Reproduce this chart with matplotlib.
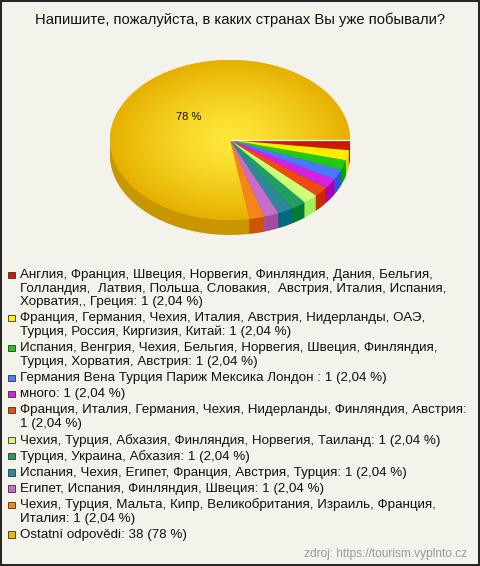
import numpy as np
import matplotlib
matplotlib.use('Agg')
import matplotlib.pyplot as plt
from matplotlib.patches import Rectangle
from matplotlib.font_manager import FontProperties
from matplotlib.colors import to_rgb

plt.rcParams['font.family'] = ['Liberation Sans', 'DejaVu Sans']

title = 'Напишите, пожалуйста, в каких странах Вы уже побывали?'
source = 'zdroj: https://tourism.vyplnto.cz'

answers = [
    'Англия, Франция, Швеция, Норвегия, Финляндия, Дания, Бельгия, Голландия,  Латвия, Польша, Словакия,  Австрия, Италия, Испания, Хорватия,, Греция',
    'Франция, Германия, Чехия, Италия, Австрия, Нидерланды, ОАЭ, Турция, Россия, Киргизия, Китай',
    'Испания, Венгрия, Чехия, Бельгия, Норвегия, Швеция, Финляндия, Турция, Хорватия, Австрия',
    'Германия Вена Турция Париж Мексика Лондон ',
    'много',
    'Франция, Италия, Германия, Чехия, Нидерланды, Финляндия, Австрия',
    'Чехия, Турция, Абхазия, Финляндия, Норвегия, Таиланд',
    'Турция, Украина, Абхазия',
    'Испания, Чехия, Египет, Франция, Австрия, Турция',
    'Египет, Испания, Финляндия, Швеция',
    'Чехия, Турция, Мальта, Кипр, Великобритания, Израиль, Франция, Италия',
    'Ostatní odpovědi',
]
counts = [1, 1, 1, 1, 1, 1, 1, 1, 1, 1, 1, 38]
pct_labels = ['2,04 %'] * 11 + ['78 %']

colors = ['#CC1A00', '#FFEE00', '#22C811', '#4A78FF', '#D422E0', '#EE4A11',
          '#CCFF77', '#1FA060', '#2E8898', '#C86CCC', '#F58518', '#EEB800']
side_colors = ['#B81400', '#E6CC00', '#00AA00', '#2F50E0', '#AA00B0', '#CC2800',
               '#A0EE5A', '#007A35', '#006880', '#A04CA0', '#CC5500', '#C89600']

bg = '#F3F3EB'
W, H = 480, 566
fig = plt.figure(figsize=(W / 100, H / 100), dpi=100, facecolor=bg)

# pie axes (3D look: stacked darker copies below the top face)
cx, cy, rx, ry = 230, 140, 120, 80
depth = 15 / ry
ax = fig.add_axes([100 / W, 1 - 245 / H, 260 / W, 195 / H])
ax.set_facecolor('none')
for d in np.linspace(depth, 0, 16)[:-1]:
    ax.pie(counts, colors=side_colors, startangle=0, counterclock=False,
           center=(0, -d), wedgeprops=dict(linewidth=0))
wedges, _, autotexts = ax.pie(
    counts, colors=colors, startangle=0, counterclock=False,
    autopct=lambda p: f'{p:.0f} %' if p > 50 else '', pctdistance=0.45,
    wedgeprops=dict(linewidth=0), textprops=dict(fontsize=8, color='#111111'))

# thin light seam where the small slices meet the big one at the top
ax.plot([0, 1], [0, 0], color='white', linewidth=0.9, zorder=2.5, solid_capstyle='butt')

# radial gradient on the big slice
g = np.linspace(-1, 1, 300)
xx, yy = np.meshgrid(g, g)
r = np.clip(np.sqrt(xx ** 2 + yy ** 2), 0, 1)[..., None]
c_in, c_out = np.array(to_rgb('#FFE83A')), np.array(to_rgb('#E6B000'))
img = c_in * (1 - r ** 1.3) + c_out * r ** 1.3
im = ax.imshow(img, extent=(-1, 1, -1, 1), origin='lower', aspect='auto', zorder=1.5)
im.set_clip_path(wedges[-1])
for t in autotexts:
    t.set_zorder(3)

ax.set_aspect('auto')
ax.set_xlim(-130 / rx, 130 / rx)
ax.set_ylim(-105 / ry, 90 / ry)
ax.axis('off')

# overlay in pixel coordinates for title, legend and frame
ov = fig.add_axes([0, 0, 1, 1], zorder=5)
ov.set_xlim(0, W)
ov.set_ylim(H, 0)
ov.axis('off')
ov.set_facecolor('none')

ov.text(240, 20, title, fontsize=10.6, ha='center', va='center', color='#111111')

fs = 9.65
prop = FontProperties(family=['Liberation Sans'], size=fs)
renderer = fig.canvas.get_renderer()


def text_w(s):
    w, _, _ = renderer.get_text_width_height_descent(s, prop, ismath=False)
    return w


def wrap(s, maxw):
    words = s.split(' ')
    lines, cur = [], ''
    for wd in words:
        cand = wd if cur == '' else cur + ' ' + wd
        if cur != '' and wd != '' and text_w(cand) > maxw:
            lines.append(cur)
            cur = wd
        else:
            cur = cand
    lines.append(cur)
    return lines


line_h = 13.6
gap = 2.6
y = 275
x_sq, x_txt = 8, 20.5
for name, n, pl, col in zip(answers, counts, pct_labels, colors):
    label = f'{name}: {n} ({pl})'
    lines = wrap(label, 449)
    ov.add_patch(Rectangle((x_sq, y - 3.5), 6.5, 6.5, facecolor=col,
                           edgecolor='#333333', linewidth=0.6))
    for ln in lines:
        ov.text(x_txt, y, ln, fontsize=fs, ha='left', va='center', color='#111111')
        y += line_h
    y += gap

ov.text(467, 554, source, fontsize=8.6, ha='right', va='center', color='#9A9A9A')
ov.add_patch(Rectangle((0.8, 0.8), W - 1.6, H - 1.6, facecolor='none',
                       edgecolor='#222222', linewidth=1.4))

fig.savefig('out.png', dpi=100, facecolor=bg)
